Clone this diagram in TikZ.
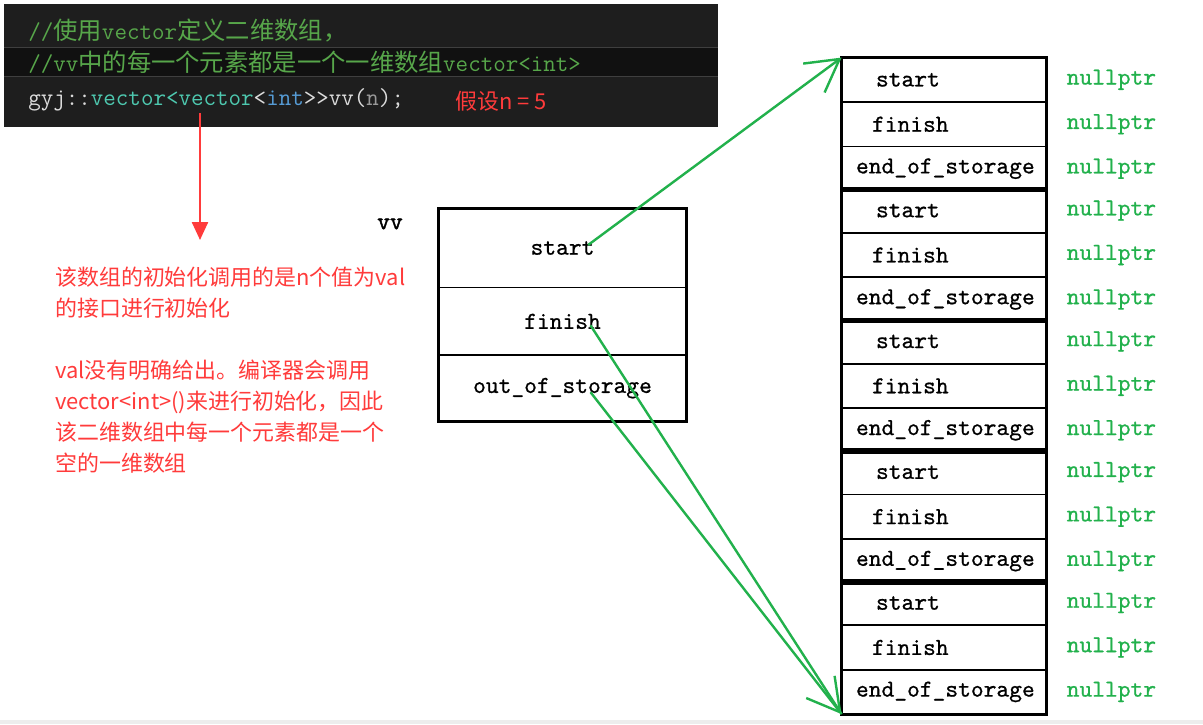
\documentclass[tikz,border=0pt]{standalone}
\usepackage{fontspec}
\newfontfamily\cjk{Noto Sans CJK SC}
\newfontfamily\heavytt{lmmono10-regular.otf}[FakeBold=0.7]
\newfontfamily\namett{lmmono10-regular.otf}[FakeBold=1.8]
\usepackage{xcolor}
\usepackage{tikz}
\usetikzlibrary{arrows.meta,positioning}

\definecolor{codebg}{HTML}{1E1E1E}
\definecolor{codeband}{HTML}{111111}
\definecolor{codeline}{HTML}{3F3F3F}
\definecolor{cmtgreen}{HTML}{57A64A}
\definecolor{codefg}{HTML}{DCDCDC}
\definecolor{typeteal}{HTML}{4EC9B0}
\definecolor{kwblue}{HTML}{569CD6}
\definecolor{parmgrey}{HTML}{9A9A9A}
\definecolor{notered}{HTML}{FF3B3B}
\definecolor{ptrgreen}{HTML}{22B14C}

\begin{document}
\begin{tikzpicture}[x=0.25mm, y=-0.25mm,
  code/.style   = {anchor=west, inner sep=0pt, font=\ttfamily\fontsize{17.3}{20}\selectfont},
  word/.style   = {font=\heavytt\fontsize{17.3}{20}\selectfont},
  vvcell/.style = {draw, line width=0.6pt, word, minimum width=61.75mm},
  cell/.style   = {draw, line width=0.6pt, word, inner xsep=0pt, text width=51mm,
                   align=left, minimum height=10.9mm},
  frame/.style  = {line width=2.2pt},
  nul/.style    = {word, text=ptrgreen, inner sep=0pt},
  note/.style   = {text=notered, align=left, anchor=north west, inner sep=0pt,
                   font=\cjk\fontsize{15.6}{22}\selectfont},
  ptr/.style    = {draw=ptrgreen, line width=0.6mm},
  ptrtip/.style = {ptr, -{Straight Barb[length=8mm, width=9mm]}},
  redarr/.style = {draw=notered, line width=0.6mm, -{Triangle[length=4.5mm, width=4mm]}}
]
\useasboundingbox (0,0) rectangle (1203,724);
\fill[white] (0,0) rectangle (1203,724);
\fill[black!7] (0,720) rectangle (1203,724);

%% ---- code block ---------------------------------------------------
\fill[codebg] (4,4) rectangle (718,127);
\fill[codeband] (4,47) rectangle (718,76);
\draw[codeline] (4,47) -- (718,47) (4,76) -- (718,76);

\node[code, text=cmtgreen] (c1) at (28,31) {//{\cjk 使用}vector{\cjk 定义二维数组，}};
\node[code, text=cmtgreen] (c2) at (28,62) {//vv{\cjk 中的每一个元素都是一个一维数组}vector<int>};
\node[code, text=codefg] (c3) at (28,100)
  {gyj::\textcolor{typeteal}{vector<vector}<\textcolor{kwblue}{int}>>vv(\textcolor{parmgrey}{n});};
\node[note, anchor=west] (assume) at (455,101) {假设n = 5};

%% ---- explanation --------------------------------------------------
\coordinate (tail) at (200,113);
\coordinate (tip) at (200,240);
\draw[redarr] (tail) -- (tip);

\node[note] (expl) at (55,267)
  {该数组的初始化调用的是n个值为val\\的接口进行初始化\\[22pt]val没有明确给出。编译器会调用\\vector<int>()来进行初始化，因此\\该二维数组中每一个元素都是一个\\空的一维数组};

%% ---- vv object ----------------------------------------------------
\node[vvcell, minimum height=19.5mm] (vvs) at (562.5,248) {start};
\node[vvcell, minimum height=16.75mm, below=0pt of vvs] (vvf) {finish};
\node[vvcell, minimum height=16.25mm, below=0pt of vvf] (vvo) {out\_of\_storage};
\draw[frame] (vvs.north west) rectangle (vvo.south east);
\node[font=\namett\fontsize{17.3}{20}\selectfont] (vvname) at (390,224) {vv};

%% ---- n inner vectors ----------------------------------------------
\foreach \i in {1,...,5} {
  \node[cell] (s\i) at (944,{79.8+130.8*(\i-1)}) {\hspace*{8.5mm}start};
  \node[cell, below=0pt of s\i] (f\i) {\hspace*{7.5mm}finish};
  \node[cell, below=0pt of f\i] (e\i) {\hspace*{3.5mm}end\_of\_storage};
  \draw[frame] (s\i.north west) rectangle (e\i.south east);
  \node[nul, right=5mm of s\i] (ns\i) {nullptr};
  \node[nul, right=5mm of f\i] (nf\i) {nullptr};
  \node[nul, right=5mm of e\i] (ne\i) {nullptr};
}

\draw[ptrtip] ([xshift=6.4mm, yshift=0.75mm]vvs.center) -- (s1.north west);
\draw[ptr] ([xshift=7mm, yshift=-1mm]vvf.center) -- (e5.south west);
\draw[ptrtip] ([xshift=7mm, yshift=-1mm]vvo.center) -- (e5.south west);
\end{tikzpicture}
\end{document}
